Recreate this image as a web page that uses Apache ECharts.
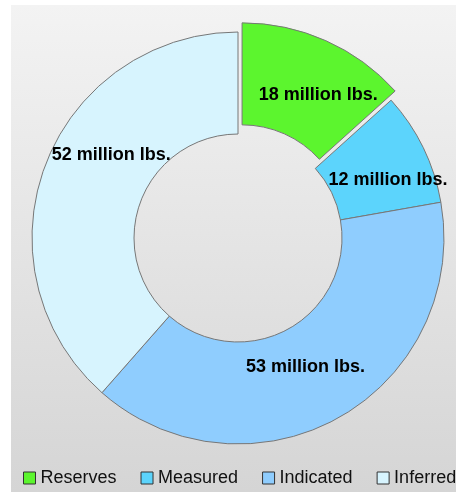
<!DOCTYPE html>
<html>
<head>
<meta charset="utf-8">
<script src="https://cdn.jsdelivr.net/npm/echarts@6/dist/echarts.min.js"></script>
<style>
  html, body { margin: 0; padding: 0; background: #fff; }
  #chart { width: 456px; height: 493px; }
</style>
</head>
<body>
<div id="chart"></div>
<script>
// resource categories and pounds (millions)
const categories = ['Reserves', 'Measured', 'Indicated', 'Inferred']
const values = [18, 12, 53, 52]
const labels = ['18 million lbs.', '12 million lbs.', '53 million lbs.', '52 million lbs.']

const colors = ['#5cf52e', '#5cd4fc', '#8fcdfe', '#d7f4fe']
// small nudges so the labels sit where the original tool put them
const labelNudge = [[12, 11], [8, 11], [-10, -9], [21, -27]]

const chart = echarts.init(document.getElementById('chart'))

const option = {
  backgroundColor: '#fff',
  animation: false,
  textStyle: { fontFamily: 'Liberation Sans, Arial, sans-serif' },
  graphic: [
    {
      type: 'rect',
      z: -10,
      silent: true,
      shape: { x: 11, y: 5, width: 445, height: 487 },
      style: {
        fill: {
          type: 'linear', x: 0, y: 0, x2: 0, y2: 1,
          colorStops: [
            { offset: 0, color: '#f3f3f3' },
            { offset: 1, color: '#d5d5d5' }
          ]
        }
      }
    }
  ],
  legend: {
    data: categories,
    left: 23,
    top: 469,
    width: 800,
    padding: 0,
    itemGap: 24,
    icon: 'rect',
    itemWidth: 12,
    itemHeight: 12,
    itemStyle: { borderColor: '#333', borderWidth: 1 },
    textStyle: { fontSize: 18, color: '#111' }
  },
  series: [
    {
      type: 'pie',
      center: [238, 238],
      radius: [104, 206],
      startAngle: 90,
      clockwise: true,
      selectedMode: 'single',
      selectedOffset: 10,
      avoidLabelOverlap: false,
      itemStyle: { borderColor: '#777', borderWidth: 1 },
      select: { itemStyle: { borderColor: '#777', borderWidth: 1 } },
      emphasis: { disabled: true },
      label: {
        show: true,
        position: 'inside',
        fontSize: 18,
        fontWeight: 'bold',
        color: '#000',
        formatter: (p) => labels[p.dataIndex]
      },
      labelLine: { show: false },
      labelLayout: (p) => ({ dx: labelNudge[p.dataIndex][0], dy: labelNudge[p.dataIndex][1] }),
      data: categories.map((name, i) => ({
        name,
        value: values[i],
        selected: i === 0,
        itemStyle: { color: colors[i] }
      }))
    }
  ]
}

chart.setOption(option)
</script>
</body>
</html>
